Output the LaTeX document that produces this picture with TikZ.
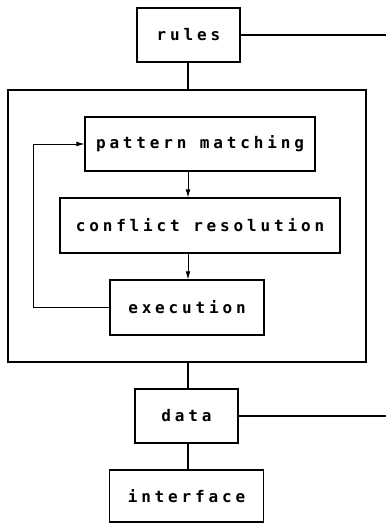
\documentclass[tikz,border=0pt]{standalone}
\usepackage{fontspec}
\newfontfamily\boxfont[LetterSpace=24]{DejaVu Sans Mono Bold}
\usetikzlibrary{arrows.meta}

\tikzset{every picture/.style={line width=0.9pt}}
\tikzset{
  unit/.style={draw, rectangle, inner sep=0pt, font=\boxfont\fontsize{12}{14}\selectfont},
  flow/.style={-{Latex[length=6pt,width=3.6pt]}, line width=0.6pt}
}

\begin{document}
\begin{tikzpicture}[x=0.75pt,y=0.75pt,yscale=-1,xscale=1]
\useasboundingbox (0,0) rectangle (387,524);

%Shape: Rectangle [outer box]
\node [draw, rectangle, minimum width=358*0.75pt, minimum height=272*0.75pt, line width=1.2pt] (engine) at (187,226) {};

% Text Node
\node [unit, minimum width=103*0.75pt, minimum height=54*0.75pt, line width=1.1pt] (rules) at (188.5,35) {rules};
\node [unit, minimum width=230*0.75pt, minimum height=54*0.75pt] (pattern) at (200,144) {pattern matching};
\node [unit, minimum width=280*0.75pt, minimum height=55*0.75pt] (conflict) at (200,225.5) {conflict resolution};
\node [unit, minimum width=154*0.75pt, minimum height=55*0.75pt] (execution) at (187,307.5) {execution};
\node [unit, minimum width=103*0.75pt, minimum height=54*0.75pt, line width=1.1pt] (data) at (186.5,416) {data};
\node [unit, minimum width=154*0.75pt, minimum height=52*0.75pt, line width=1.1pt] (interface) at (186.5,496) {interface};

%Straight Lines
\coordinate (spine) at (188,0);
\coordinate (edge) at (386,0);

\draw (rules.east) -- (rules.east -| edge);
\draw (rules.south -| spine) -- (engine.north -| spine);
\draw (engine.south -| spine) -- (data.north -| spine);
\draw (data.east) -- (data.east -| edge);
\draw (data.south -| spine) -- (interface.north -| spine);

%Arrows
\draw [flow] (pattern.south -| spine) -- (conflict.north -| spine);
\draw [flow] (conflict.south -| spine) -- (execution.north -| spine);
\draw [flow] (execution.west) -- ++(-76,0) |- (pattern.west);

\end{tikzpicture}
\end{document}
